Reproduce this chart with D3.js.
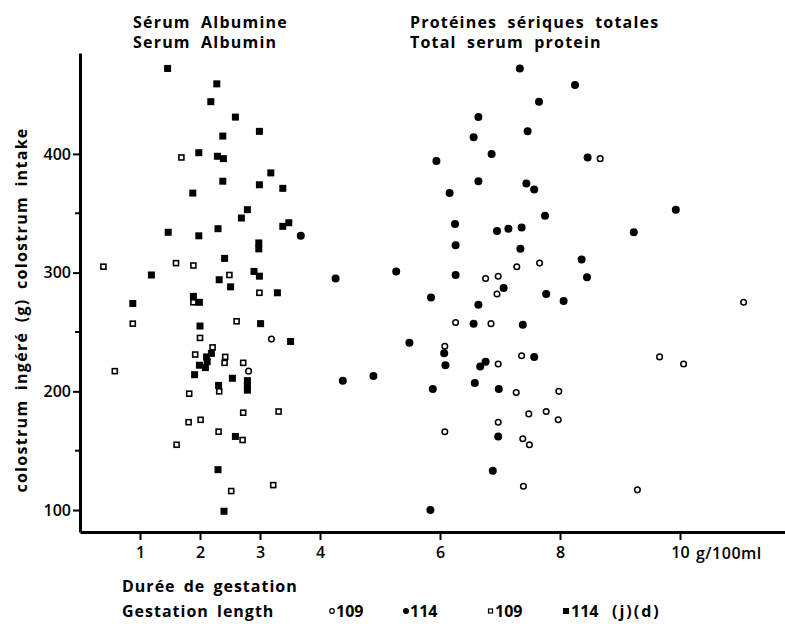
<!DOCTYPE html>
<html>
<head>
<meta charset="utf-8">
<script src="https://d3js.org/d3.v7.min.js"></script>
<style>
  body { margin: 0; background: #fff; }
  text { font-family: "Open Sans", "DejaVu Sans", sans-serif; font-weight: 700; fill: #000; }
  .axis path, .axis line { stroke: #000; }
  .axis path { stroke-width: 3px; }
  .axis line { stroke-width: 2px; }
  .axis text { font-size: 16px; font-weight: 600; }
</style>
</head>
<body>
<svg width="785" height="624"></svg>
<script>
// tick values
var xTicks = [1, 2, 3, 4, 6, 8, 10];
var yMajor = [100, 200, 300, 400];
var yMinor = [150, 250, 350];

// serum albumin (squares), [g/100ml, colostrum g]
var albumin114 = [[1.46,472],[2.28,459],[2.18,444],[2.59,431],[2.99,419],[2.38,415],[1.98,401],[2.29,398],[2.39,396],[3.18,384],
  [2.38,377],[2.99,374],[3.38,371],[1.88,367],[2.79,353],[2.69,346],[3.48,342],[3.38,339],[1.47,334],[2.30,337],
  [1.98,331],[2.98,325],[2.98,320],[2.41,312],[1.19,298],[2.32,294],[2.90,301],[2.99,297],[2.51,288],[3.29,283],
  [1.89,280],[1.99,275],[0.88,274],[2.00,255],[3.01,257],[3.51,242],[2.19,232],[2.11,229],[2.12,225],[1.99,222],
  [2.09,220],[1.91,214],[2.54,211],[2.79,209],[2.79,205],[2.79,201],[2.31,205],[2.59,162],[2.30,134],[2.40,99]];
var albumin109 = [[1.69,397],[0.39,305],[1.60,308],[1.89,306],[2.49,298],[2.99,283],[1.89,275],[0.88,257],[2.61,259],[2.00,245],
  [2.21,237],[1.92,231],[2.42,229],[2.41,224],[2.72,224],[0.58,217],[2.32,200],[1.82,198],[2.72,182],[3.31,183],
  [1.81,174],[2.01,176],[2.31,166],[2.71,159],[1.61,155],[3.22,121],[2.52,116]];

// total serum protein (circles)
var protein114 = [[7.33,472],[8.25,458],[7.65,444],[6.64,431],[6.56,414],[7.46,419],[6.86,400],[5.94,394],[8.46,397],[6.64,377],
  [7.44,375],[7.57,370],[6.16,367],[9.93,353],[7.75,348],[6.25,341],[6.95,335],[7.14,337],[7.36,338],[9.23,334],
  [6.26,323],[7.34,320],[8.36,311],[8.45,296],[4.26,295],[5.27,301],[6.26,298],[7.06,287],[7.77,282],[8.06,276],
  [5.85,279],[6.64,273],[6.56,257],[7.38,256],[5.49,241],[6.07,232],[6.09,222],[6.67,221],[6.76,225],[7.57,229],
  [4.89,213],[4.38,209],[5.88,202],[6.58,207],[6.98,202],[6.97,162],[6.88,133],[5.84,100],[3.68,331]];
var protein109 = [[8.67,396],[7.28,305],[7.66,308],[6.76,295],[6.97,297],[6.95,282],[11.06,275],[6.26,258],[6.85,257],[6.08,238],
  [6.97,223],[7.36,230],[9.66,229],[10.06,223],[7.27,199],[7.98,200],[7.48,181],[7.77,183],[7.97,176],[6.97,174],
  [6.08,166],[7.38,160],[7.49,155],[7.39,120],[9.29,117],[3.19,244],[2.81,217]];

var svg = d3.select('svg');

var x = d3.scaleLinear().domain([0, 11.75]).range([80, 785]);
var y = d3.scaleLinear().domain([81.5, 485]).range([532, 53]);

// x axis
var xAxis = svg.append('g').attr('class', 'axis')
  .attr('transform', 'translate(0,' + y(81.5) + ')')
  .call(d3.axisBottom(x).tickValues(xTicks).tickSize(8).tickSizeOuter(0).tickPadding(5));
xAxis.selectAll('.tick text').attr('dy', '0.8em');

svg.append('text')
  .attr('x', x(10) + 16).attr('y', 559)
  .style('font-size', '16px').style('font-weight', 600)
  .style('letter-spacing', '0.5px')
  .text('g/100ml');

// y axis
var yAxis = svg.append('g').attr('class', 'axis')
  .attr('transform', 'translate(' + x(0) + ',0)')
  .call(d3.axisLeft(y).tickValues(yMajor).tickSize(7).tickSizeOuter(0).tickPadding(2));

yAxis.selectAll('line.minor')
  .data(yMinor)
  .enter()
  .append('line')
  .attr('x1', -5).attr('x2', 0)
  .attr('y1', function(d) { return y(d); })
  .attr('y2', function(d) { return y(d); });

// y label
svg.append('text')
  .attr('transform', 'translate(27,' + 310 + ') rotate(-90)')
  .attr('text-anchor', 'middle')
  .style('font-size', '16px')
  .style('letter-spacing', '1.3px')
  .style('word-spacing', '4px')
  .text('colostrum ingéré (g)   colostrum intake');

// titles
function title(tx, ty, s) {
  svg.append('text').attr('x', tx).attr('y', ty)
    .style('font-size', '16px').style('letter-spacing', '1.2px').style('word-spacing', '5px')
    .text(s);
}
title(133, 28, 'Sérum Albumine');
title(133, 48, 'Serum Albumin');
title(410, 28, 'Protéines sériques totales');
title(410, 48, 'Total serum protein');

// points
var pts = svg.append('g');

pts.selectAll('rect.a114')
  .data(albumin114)
  .enter()
  .append('rect')
  .attr('x', function(d) { return x(d[0]) - 3.5; })
  .attr('y', function(d) { return y(d[1]) - 3.5; })
  .attr('width', 7).attr('height', 7)
  .attr('fill', '#000');

pts.selectAll('rect.a109')
  .data(albumin109)
  .enter()
  .append('rect')
  .attr('x', function(d) { return x(d[0]) - 2.5; })
  .attr('y', function(d) { return y(d[1]) - 2.5; })
  .attr('width', 5).attr('height', 5)
  .attr('fill', '#fff').attr('stroke', '#000').attr('stroke-width', 1.6);

pts.selectAll('circle.p114')
  .data(protein114)
  .enter()
  .append('circle')
  .attr('cx', function(d) { return x(d[0]); })
  .attr('cy', function(d) { return y(d[1]); })
  .attr('r', 4)
  .attr('fill', '#000');

pts.selectAll('circle.p109')
  .data(protein109)
  .enter()
  .append('circle')
  .attr('cx', function(d) { return x(d[0]); })
  .attr('cy', function(d) { return y(d[1]); })
  .attr('r', 2.8)
  .attr('fill', '#fff').attr('stroke', '#000').attr('stroke-width', 1.5);

// legend
svg.append('text').attr('x', 122).attr('y', 592).style('font-size', '16px').style('letter-spacing', '1px').style('word-spacing', '3px').text('Durée de gestation');
svg.append('text').attr('x', 122).attr('y', 617).style('font-size', '16px').style('letter-spacing', '1px').style('word-spacing', '3px').text('Gestation length');

var lg = svg.append('g');
lg.append('circle').attr('cx', 332).attr('cy', 611).attr('r', 2.3).attr('fill', '#fff').attr('stroke', '#000').attr('stroke-width', 1.2);
lg.append('text').attr('x', 336).attr('y', 617).style('font-size', '16px').text('109');
lg.append('circle').attr('cx', 406).attr('cy', 611).attr('r', 3).attr('fill', '#000');
lg.append('text').attr('x', 410).attr('y', 617).style('font-size', '16px').text('114');
lg.append('rect').attr('x', 488.5).attr('y', 609).attr('width', 4).attr('height', 4).attr('fill', '#fff').attr('stroke', '#000').attr('stroke-width', 1.2);
lg.append('text').attr('x', 495).attr('y', 617).style('font-size', '16px').text('109');
lg.append('rect').attr('x', 563).attr('y', 608).attr('width', 6).attr('height', 6).attr('fill', '#000');
lg.append('text').attr('x', 571).attr('y', 617).style('font-size', '16px').text('114');
lg.append('text').attr('x', 612).attr('y', 617).style('font-size', '16px').style('letter-spacing', '2px').text('(j)(d)');
</script>
</body>
</html>
